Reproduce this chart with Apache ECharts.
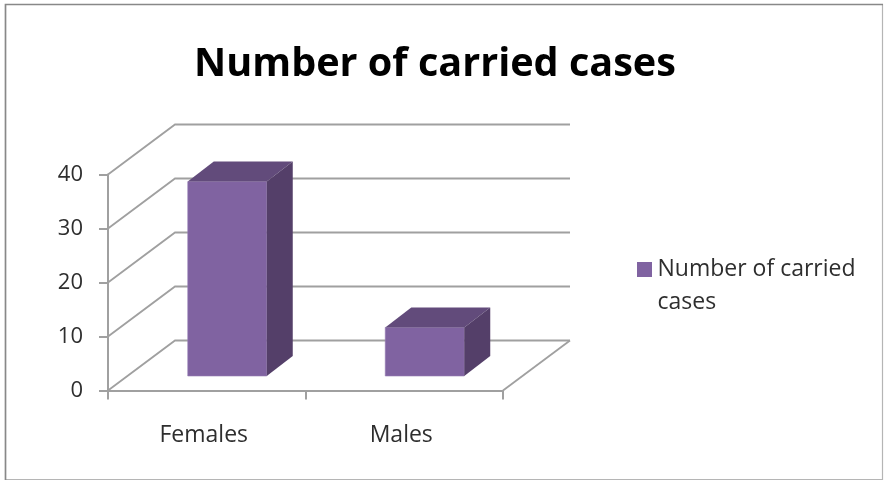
<!DOCTYPE html>
<html><head><meta charset="utf-8">
<style>html,body{margin:0;padding:0;background:#fff}#c{width:884px;height:481px}</style>
<script src="https://cdn.jsdelivr.net/npm/echarts@6/dist/echarts.min.js"></script>
</head><body><div id="c"></div>
<script>
const titleText = 'Number of carried cases';
const seriesName = 'Number of carried cases';
const categories = ['Females', 'Males'];
const values = [36, 9];
const yTicks = [0, 10, 20, 30, 40];

const wallDx = 67, wallDy = 50;
const floorDx = 20.5, floorDy = 14.5;
const sideDx = 26, sideDy = 20;
const gridColor = '#a0a0a0';
const textColor = '#2e2e2e';
const font = 'Open Sans';

const chart = echarts.init(document.getElementById('c'), null, {renderer: 'canvas'});

function renderWall(params, api) {
  const v = api.value(0);
  const cs = params.coordSys;
  const y = api.coord([0, v])[1];
  const x0 = cs.x, x1 = cs.x + cs.width;
  const kids = [{
    type: 'polyline',
    shape: {points: [[x0, y], [x0 + wallDx, y - wallDy], [x1 + wallDx, y - wallDy]]},
    style: {stroke: gridColor, lineWidth: 1.8, fill: null}
  }];
  if (v === 0) {
    kids.push({
      type: 'line',
      shape: {x1: x1, y1: y, x2: x1 + wallDx, y2: y - wallDy},
      style: {stroke: gridColor, lineWidth: 1.8}
    });
  }
  return {type: 'group', children: kids};
}

function renderBar(params, api) {
  const c = api.value(0), v = api.value(1);
  const top = api.coord([c, v]);
  const base = api.coord([c, 0]);
  const w = api.size([1, 0])[0] * 0.4;
  const l = top[0] - w / 2 + floorDx, r = l + w;
  const t = top[1] - floorDy, b = base[1] - floorDy;
  return {type: 'group', children: [
    {type: 'polygon', shape: {points: [[l, t], [r, t], [r, b], [l, b]]},
      style: {fill: '#8063a1', stroke: '#957cb3', lineWidth: 0.6}},
    {type: 'polygon', shape: {points: [[l, t], [l + sideDx, t - sideDy], [r + sideDx, t - sideDy], [r, t]]},
      style: {fill: '#624b7b'}},
    {type: 'polygon', shape: {points: [[r, t], [r + sideDx, t - sideDy], [r + sideDx, b - sideDy], [r, b]]},
      style: {fill: '#543f69'}}
  ]};
}

chart.setOption({
  animation: false,
  backgroundColor: '#fff',
  title: {
    text: titleText, left: 430, top: 35, textAlign: 'center',
    textStyle: {fontFamily: font, fontWeight: 700, fontSize: 39.6, color: '#000', lineHeight: 50}
  },
  graphic: [{
    type: 'rect', z: -1, silent: true,
    shape: {x: 5.5, y: 4.5, width: 877, height: 475},
    style: {fill: null, stroke: '#b5b5b5', lineWidth: 1.2}
  }, {
    type: 'polyline', z: -1, silent: true,
    shape: {points: [[5.5, 480], [5.5, 4.5], [883, 4.5]]},
    style: {fill: null, stroke: '#888', lineWidth: 1.6}
  }],
  legend: {
    left: 632, top: 247, orient: 'vertical',
    data: [{name: seriesName, icon: 'path://M0 0H15V15H0Z M0 47.9H0.01V48H0Z'}],
    itemWidth: 16, itemHeight: 48, itemGap: 0,
    selectedMode: false,
    formatter: () => 'Number of carried\ncases',
    textStyle: {fontFamily: font, fontSize: 23, color: textColor, lineHeight: 33, padding: [2, 0, 0, 0]}
  },
  grid: {left: 108, top: 174.5, width: 395, height: 216},
  xAxis: {
    type: 'category', data: categories,
    axisLine: {lineStyle: {color: gridColor, width: 2}},
    axisTick: {show: true, length: 9, lineStyle: {color: gridColor, width: 2}},
    axisLabel: {fontFamily: font, fontSize: 23, color: textColor, margin: 33, padding: [0, 6, 0, 0]}
  },
  yAxis: {
    type: 'value', min: 0, max: 40, interval: 10,
    axisLine: {show: true, lineStyle: {color: gridColor, width: 2}},
    axisTick: {show: true, length: 9, lineStyle: {color: gridColor, width: 2}},
    axisLabel: {fontFamily: font, fontSize: 22, color: textColor, margin: 25, padding: [3, 0, 0, 0]},
    splitLine: {show: false}
  },
  series: [{
    type: 'custom', name: 'walls', silent: true, z: 1, clip: false,
    renderItem: renderWall,
    encode: {y: 0},
    data: yTicks.map(v => [v])
  }, {
    type: 'custom', name: seriesName, z: 3, clip: false,
    itemStyle: {color: '#8063a1'},
    renderItem: renderBar,
    encode: {x: 0, y: 1},
    data: values.map((v, i) => [i, v])
  }]
});
</script></body></html>
